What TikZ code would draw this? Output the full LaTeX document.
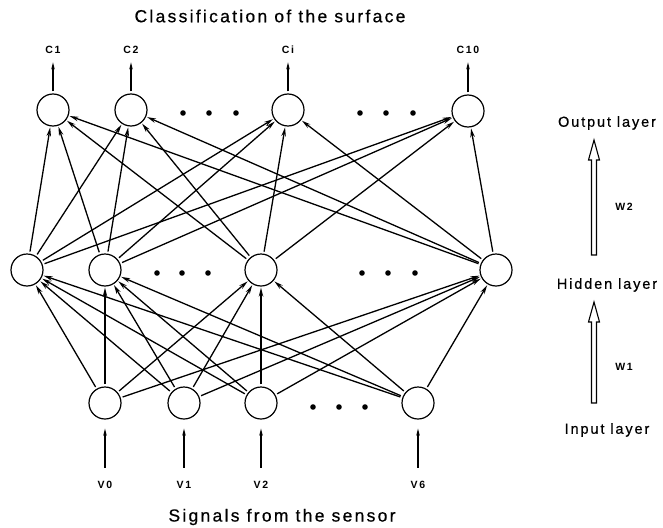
\documentclass[tikz,border=0pt]{standalone}
\usepackage{fontspec}
\setmainfont{Liberation Sans}
\newfontfamily\spacedfont[LetterSpace=13, FakeBold=0.6]{Liberation Sans}
\newfontfamily\tagfont[LetterSpace=16]{Liberation Sans Bold}
\usetikzlibrary{positioning,arrows.meta}

\begin{document}
\begin{tikzpicture}[x=1pt, y=-1pt,
    neuron/.style={draw, circle, minimum size=32pt, inner sep=0pt, line width=1.2pt},
    link/.style={-{Stealth[length=9pt,width=4.5pt]}, line width=1.3pt, shorten <=2pt, shorten >=1pt},
    sig/.style={-{Stealth[length=7pt,width=3.5pt]}, line width=1.3pt},
    caption/.style={font=\spacedfont\fontsize{17.5}{20}\selectfont},
    layer/.style={font=\spacedfont\fontsize{14.5}{17}\selectfont},
    tag/.style={font=\tagfont\fontsize{10.5}{12}\selectfont},
    bigarrow/.style={line width=1.1pt, line join=miter}]
    \useasboundingbox (0,0) rectangle (663,527);

    % output layer
    \node[neuron] (o1) at (53,110) {};
    \node[neuron] (o2) at (131,110) {};
    \node[neuron] (o3) at (288,110) {};
    \node[neuron] (o4) at (468,111) {};
    % hidden layer
    \node[neuron] (h1) at (27,270) {};
    \node[neuron] (h2) at (105,270) {};
    \node[neuron] (h3) at (261,270) {};
    \node[neuron] (h4) at (496,270) {};
    % input layer
    \node[neuron] (i1) at (105,403) {};
    \node[neuron] (i2) at (184,403) {};
    \node[neuron] (i3) at (261,403) {};
    \node[neuron] (i4) at (418,403) {};

    \foreach \x in {183,209,236,360,386,413} \fill (\x,113) circle (2.8);
    \foreach \x in {157,182,208,362,388,415} \fill (\x,273) circle (2.8);
    \foreach \x in {313,339,365} \fill (\x,407) circle (2.8);

    \foreach \a in {h1,h2,h3,h4}
        \foreach \b in {o1,o2,o3,o4}
            \draw[link] (\a) -- (\b);
    \foreach \a in {i1,i2,i3,i4}
        \foreach \b in {h1,h2,h3,h4}
            \draw[link] (\a) -- (\b);

    % outputs
    \node[tag, above=36pt of o1] (c1) {C1};
    \node[tag, above=36pt of o2] (c2) {C2};
    \node[tag, above=36pt of o3] (ci) {Ci};
    \node[tag, above=37pt of o4] (c10) {C10};
    \foreach \n/\t in {o1/c1,o2/c2,o3/ci,o4/c10}
        \draw[sig, shorten <=2pt, shorten >=5pt] (\n) -- (\t);

    % inputs
    \node[tag, below=58pt of i1] (v0) {V0};
    \node[tag, below=58pt of i2] (v1) {V1};
    \node[tag, below=58pt of i3] (v2) {V2};
    \node[tag, below=58pt of i4] (v6) {V6};
    \foreach \n/\t in {i1/v0,i2/v1,i3/v2,i4/v6}
        \draw[sig, shorten <=10pt, shorten >=9pt] (\t) -- (\n);

    \node[caption] (top) at (270,16) {Classification of the surface};
    \node[caption] (bottom) at (282,517) {Signals from the sensor};

    % layer names
    \node[layer] (outl) at (607,123) {Output layer};
    \node[layer] (hidl) at (607,285) {Hidden layer};
    \node[layer] (inl) at (607,430) {Input layer};
    \coordinate (w2a) at (594,255);
    \coordinate (w1a) at (594,403);
    \draw[bigarrow] (w2a) ++(-2.5,0) -- ++(0,-95) -- ++(-3,0) -- ++(5.5,-20)
        -- ++(5.5,20) -- ++(-3,0) -- ++(0,95) -- cycle;
    \draw[bigarrow] (w1a) ++(-2.5,0) -- ++(0,-81) -- ++(-3,0) -- ++(5.5,-20)
        -- ++(5.5,20) -- ++(-3,0) -- ++(0,81) -- cycle;
    \node[tag] (w2) at (624,207) {W2};
    \node[tag] (w1) at (624,367) {W1};
\end{tikzpicture}
\end{document}
